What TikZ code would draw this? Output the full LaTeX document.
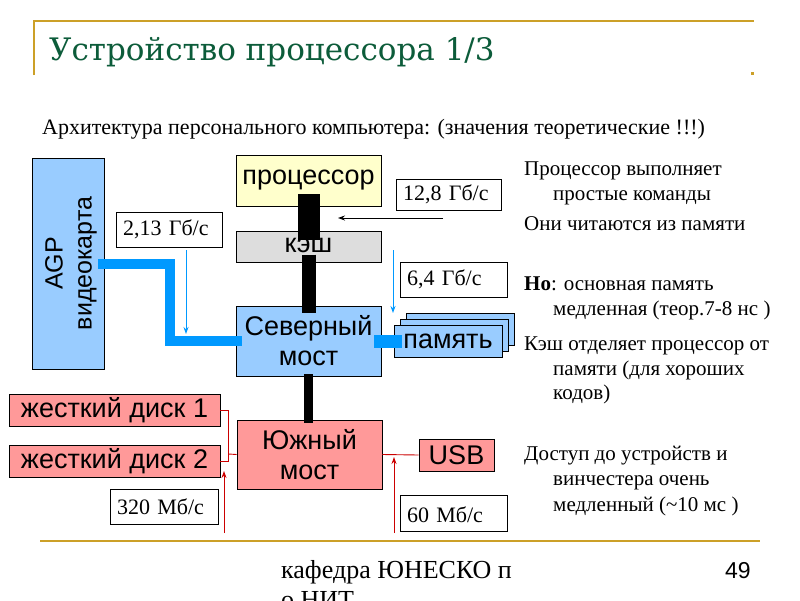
\documentclass[tikz,border=0pt]{standalone}
\usepackage{fontspec}
\setmainfont{Liberation Serif}
\newfontfamily\arialf{Liberation Sans}
\newfontfamily\titlef{DejaVu Serif}
\usetikzlibrary{arrows.meta,calc}
\definecolor{gold}{RGB}{204,160,40}
\definecolor{titlegreen}{RGB}{12,92,58}
\definecolor{lblue}{RGB}{153,204,255}
\definecolor{lpink}{RGB}{255,153,153}
\definecolor{lyellow}{RGB}{255,255,204}
\definecolor{lgray}{RGB}{221,221,221}
\definecolor{busblue}{RGB}{0,153,255}
\definecolor{thinred}{RGB}{204,0,0}
\tikzset{
  box/.style={draw=black, line width=0.8pt, inner sep=0pt, align=center,
    font=\arialf\fontsize{27}{30}\selectfont},
  rate/.style={draw=black, fill=white, line width=0.8pt, inner xsep=7pt, inner ysep=0pt,
    align=left, font=\fontsize{22}{24}\selectfont},
  note/.style={anchor=base west, inner sep=0pt, font=\fontsize{21}{24}\selectfont},
  goldline/.style={draw=gold, line width=2pt},
  bluebus/.style={draw=busblue, line width=10pt},
  blackbus/.style={draw=black},
  bluearrow/.style={draw=busblue, line width=0.9pt, -{Stealth[length=7pt,width=5pt]}},
  redarrow/.style={draw=thinred, line width=0.9pt, -{Stealth[length=7pt,width=5pt]}},
  blackarrow/.style={draw=black, line width=0.9pt, -{Stealth[length=7pt,width=5pt]}},
  redline/.style={draw=thinred, line width=0.9pt},
}
\begin{document}
\begin{tikzpicture}[x=1pt,y=-1pt]
\useasboundingbox (0,0) rectangle (800,600);
\fill[white] (0,0) rectangle (800,600);

% frame lines
\draw[goldline] (34,75) -- (34,21) -- (754,21);
\fill[gold] (751,72) rectangle (754,75);
\draw[goldline] (40,541) -- (760,541);

% title
\node[anchor=base west, inner sep=0pt, text=titlegreen,
  font=\titlef\fontsize{31}{34}\selectfont] (title) at (49,60) {Устройство процессора 1/3};
\node[anchor=base west, inner sep=0pt, font=\fontsize{22}{24}\selectfont] (subtitle) at (42,134)
  {Архитектура персонального компьютера: (значения теоретические !!!)};

% boxes
\node[box, fill=lblue, minimum width=72pt, minimum height=211pt] (agp) at (68,263.5) {};
\node[rotate=90, align=center, inner sep=0pt, font=\arialf\fontsize{25}{29}\selectfont] (agptext) at (71,263.5) {AGP\\видеокарта};
\node[box, fill=lyellow, minimum width=145pt, minimum height=51pt] (proc) at (308.5,180.5) {процессор};
\node[box, fill=lgray, minimum width=145pt, minimum height=31pt] (cache) at (308.5,246.5) {};
\node[box, fill=lblue, minimum width=145pt, minimum height=70pt] (nb) at (308.5,341) {Северный\\мост};
\node[box, fill=lpink, minimum width=145pt, minimum height=69pt] (sb) at (309.5,454.5) {Южный\\мост};
\node[box, fill=lpink, minimum width=75pt, minimum height=32pt] (usb) at (456.5,455) {USB};
\node[box, fill=lpink, minimum width=211pt, minimum height=32pt] (d1) at (114.5,410) {жесткий диск 1};
\node[box, fill=lpink, minimum width=211pt, minimum height=32pt] (d2) at (114.5,461) {жесткий диск 2};
\node[box, fill=lblue, minimum width=108pt, minimum height=32pt] (mem3) at (460,329) {};
\node[box, fill=lblue, minimum width=108pt, minimum height=32pt] (mem2) at (454,335) {};
\node[box, fill=lblue, minimum width=108pt, minimum height=32pt] (mem) at (448,341) {память};

% black buses
\draw[blackbus, line width=22pt] ($(proc.south)+(0,-12)$) -- ($(cache.north)+(0,9)$);
\draw[blackbus, line width=14pt] ($(cache.north)+(0,24)$) -- ($(nb.north)+(0,7)$);
\node[inner sep=0pt, font=\arialf\fontsize{27}{29}\selectfont] (cachetext) at ($(cache.center)+(0,-1)$) {кэш};
\draw[blackbus, line width=9pt] ($(nb.south)+(0,-2)$) -- ($(nb.south |- sb.north)+(0,3)$);

% blue buses
\draw[bluebus, line join=miter] ([xshift=-6pt]agp.east) -| ($(nb.west)+(-66,0)$) -- ([xshift=6pt]nb.west);
\draw[bluebus, line width=13pt] ([xshift=-7pt]nb.east) -- ([xshift=8pt]mem.west);

% red connections
\draw[redline] (d1.east) -| ($(d2.east)+(8,0)$) -- (d2.east);
\draw[redline] ($(d2.east)+(8,-7)$) -- (sb.west);
\draw[redline] (sb.east) -- (usb.west);

% rate labels
\node[rate, text width=91pt, minimum height=31pt] (r128) at (448.5,194.5) {12,8 Гб/с};
\node[rate, text width=93pt, minimum height=35pt] (r64) at (453.5,279.5) {6,4 Гб/с};
\node[rate, text width=92pt, minimum height=35pt] (r213) at (169,229.5) {2,13 Гб/с};
\node[rate, text width=94pt, minimum height=35pt] (r320) at (164,506.5) {320 Мб/с};
\node[rate, text width=93pt, minimum height=36pt, text depth=0pt] (r60) at (453.5,513) {\raisebox{-4pt}{60 Мб/с}};

% thin arrows
\coordinate (a1s) at (443,218); \coordinate (a1e) at (338,218);
\draw[blackarrow] (a1s) -- (a1e);
\coordinate (a2s) at (393,250); \coordinate (a2e) at (393,313);
\draw[bluearrow] (a2s) -- (a2e);
\coordinate (a3s) at (186,250); \coordinate (a3e) at (186,334);
\draw[bluearrow] (a3s) -- (a3e);
\coordinate (a4s) at (224,533); \coordinate (a4e) at (224,471);
\draw[redarrow] (a4s) -- (a4e);
\coordinate (a5s) at (394,533); \coordinate (a5e) at (394,457);
\draw[redarrow] (a5s) -- (a5e);

% notes
\node[note] (n1) at (524,175) {Процессор выполняет};
\node[note] (n2) at (553,200) {простые команды};
\node[note] (n3) at (524,230) {Они читаются из памяти};
\node[note] (n4) at (524,290) {\textbf{Но}: основная память};
\node[note] (n5) at (553,315) {медленная (теор.7-8 нс )};
\node[note] (n6) at (524,350) {Кэш отделяет процессор от};
\node[note] (n7) at (553,375) {памяти (для хороших};
\node[note] (n8) at (553,399) {кодов)};
\node[note] (n9) at (524,460) {Доступ до устройств и};
\node[note] (n10) at (553,485) {винчестера очень};
\node[note] (n11) at (553,511) {медленный (\textasciitilde10 мс )};

% footer
\node[anchor=base west, inner sep=0pt, font=\fontsize{26}{30}\selectfont] (foot1) at (281,578) {кафедра ЮНЕСКО п};
\node[anchor=base west, inner sep=0pt, font=\fontsize{26}{30}\selectfont] (foot2) at (281,608) {о НИТ};
\node[anchor=base west, inner sep=0pt, font=\arialf\fontsize{23}{24}\selectfont] (page) at (725,578) {49};
\end{tikzpicture}
\end{document}
